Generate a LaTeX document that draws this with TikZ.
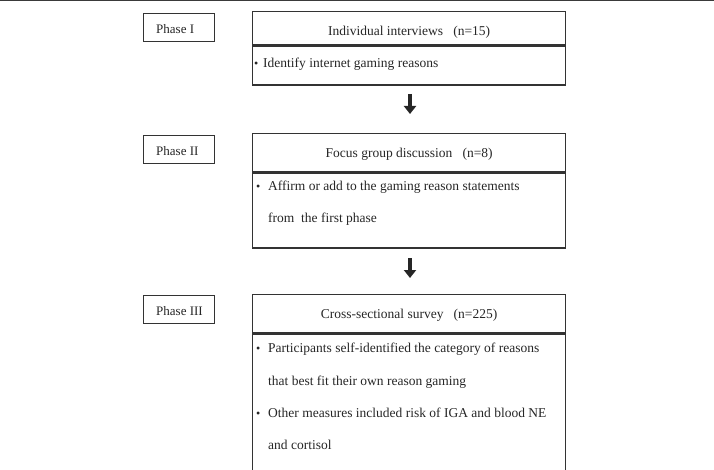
\documentclass[tikz,border=0pt]{standalone}
\usepackage{fontspec}
\setmainfont{Liberation Serif}
\usetikzlibrary{arrows.meta}

\begin{document}
\begin{tikzpicture}[
    x=1pt,
    y=-1pt,
    line cap=butt,
    line join=miter,
    font=\fontsize{13.5}{16}\selectfont
]

\definecolor{InkGray}{HTML}{262626}
\definecolor{FrameGray}{HTML}{333333}
\definecolor{EdgeGray}{HTML}{3A3A3A}

\tikzset{
    phase box/.style={
        draw=FrameGray,
        line width=1.3pt,
        anchor=north west,
        minimum width=71pt,
        minimum height=28pt,
        inner sep=0pt
    },
    phase text/.style={
        anchor=west,
        inner sep=0pt,
        text=InkGray,
        font=\fontsize{13}{15}\selectfont
    },
    title box/.style={
        draw=FrameGray,
        line width=1.3pt,
        anchor=north west,
        minimum width=313pt,
        minimum height=#1,
        inner sep=0pt,
        text height=12pt,
        text depth=3pt,
        text=InkGray
    },
    body box/.style={
        draw=FrameGray,
        line width=1.3pt,
        anchor=north west,
        minimum width=313pt,
        minimum height=#1,
        inner sep=0pt
    },
    line text/.style={
        anchor=base west,
        inner sep=0pt,
        text=InkGray
    },
    bullet/.style={
        anchor=base west,
        inner sep=0pt,
        text=InkGray,
        font=\fontsize{12}{14}\selectfont
    },
    flow arrow/.style={
        draw=InkGray,
        line width=4pt,
        -{Triangle[width=12pt,length=8pt]}
    }
}

\useasboundingbox (0,0) rectangle (714,470);

\draw[draw=EdgeGray, line width=2pt] (0,0.5) -- (714,0.5);

\node[phase box] (p1) at (143,13) {};
\node[phase box] (p2) at (143,135) {};
\node[phase box] (p3) at (143,295) {};
\node[phase text] (p1 text) at ([xshift=13pt,yshift=-1.5pt]p1.west) {Phase I};
\node[phase text] (p2 text) at ([xshift=13pt,yshift=-1.5pt]p2.west) {Phase II};
\node[phase text] (p3 text) at ([xshift=13pt,yshift=-1.5pt]p3.west) {Phase III};

\node[title box=33pt, text height=18pt] (t1) at (252,11) {Individual interviews\ \ \ (n=15)};
\node[body box=39pt] (b1) at (t1.south west) {};

\node[title box=38pt] (t2) at (252,133) {Focus group discussion\ \ \ (n=8)};
\node[body box=75pt] (b2) at (t2.south west) {};

\node[title box=38pt] (t3) at (252,294) {Cross-sectional survey\ \ \ (n=225)};
\node[body box=150pt] (b3) at (t3.south west) {};

% bullet lines
\node[bullet] (d1) at (254,68) {\textbullet};
\node[line text] (l1) at (263,68) {Identify internet gaming reasons};

\node[bullet] (d2) at (256,191) {\textbullet};
\node[line text] (l21) at (268,191) {Affirm or add to the gaming reason statements};
\node[line text] (l22) at (268,223) {from\ \ the first phase};

\node[bullet] (d31) at (256,352) {\textbullet};
\node[line text] (l31) at (268,352) {Participants self-identified the category of reasons};
\node[line text] (l32) at (268,385) {that best fit their own reason gaming};
\node[bullet] (d32) at (256,417) {\textbullet};
\node[line text] (l33) at (268,417) {Other measures included risk of IGA and blood NE};
\node[line text] (l34) at (268,449) {and cortisol};

% arrows between phases
\coordinate (a1 top) at (410,94);
\coordinate (a1 tip) at (410,114);
\coordinate (a2 top) at (410,258);
\coordinate (a2 tip) at (410,278);
\draw[flow arrow] (a1 top) -- (a1 tip);
\draw[flow arrow] (a2 top) -- (a2 tip);

\end{tikzpicture}
\end{document}
